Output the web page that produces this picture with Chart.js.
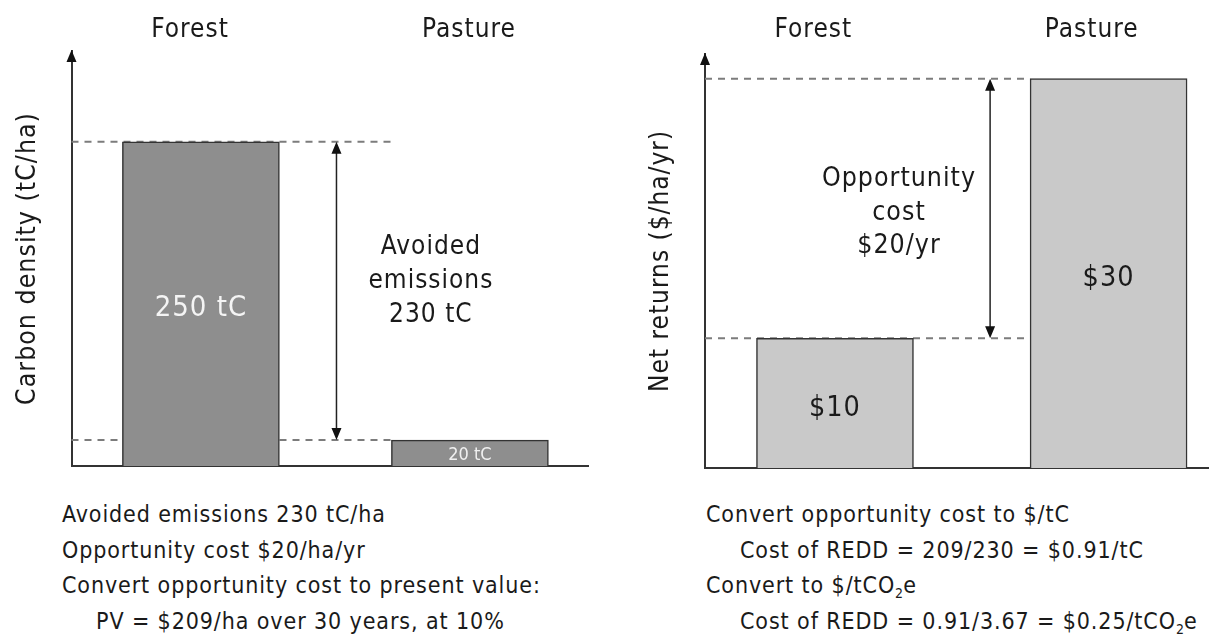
<!DOCTYPE html>
<html>
<head>
<meta charset="utf-8">
<script src="https://cdn.jsdelivr.net/npm/chart.js@4.4.1/dist/chart.umd.min.js"></script>
<style>
  body { margin: 0; width: 1209px; height: 637px; overflow: hidden; background: #fff; position: relative;
         font-family: "DejaVu Sans Condensed", "DejaVu Sans", sans-serif; color: #1a1a1a; }
  #carbon { position: absolute; left: 0; top: 0; }
  #returns { position: absolute; left: 600px; top: 0; }
  .notes { position: absolute; top: 497px; font-size: 23px; letter-spacing: 0.9px; line-height: 35.7px; white-space: nowrap; }
  .notes .ind { padding-left: 34px; }
  .notes sub { font-size: 14px; line-height: 0; vertical-align: -5px; letter-spacing: 0; }
</style>
</head>
<body>
<canvas id="carbon" width="600" height="480"></canvas>
<canvas id="returns" width="609" height="480"></canvas>

<div class="notes" style="left:62px">
  <div>Avoided emissions 230 tC/ha</div>
  <div>Opportunity cost $20/ha/yr</div>
  <div>Convert opportunity cost to present value:</div>
  <div class="ind">PV = $209/ha over 30 years, at 10%</div>
</div>
<div class="notes" style="left:706px">
  <div>Convert opportunity cost to $/tC</div>
  <div class="ind">Cost of REDD = 209/230 = $0.91/tC</div>
  <div>Convert to $/tCO<sub>2</sub>e</div>
  <div class="ind">Cost of REDD = 0.91/3.67 = $0.25/tCO<sub>2</sub>e</div>
</div>

<script>
const categories = ["Forest", "Pasture"];
const carbonDensity = [250, 20];
const netReturns = [10, 30];
const carbonLabels = ["250 tC", "20 tC"];
const returnLabels = ["$10", "$30"];
const avoidedText = ["Avoided", "emissions", "230 tC"];
const opportunityText = ["Opportunity", "cost", "$20/yr"];

const FONT = '"DejaVu Sans Condensed", "DejaVu Sans", sans-serif';
const INK = "#1a1a1a";

// dashed guides, axis arrow, gap arrow and text labels
const gapPlugin = {
  id: "gap",
  beforeDraw(chart) {
    chart.ctx.letterSpacing = "1px";
  },
  beforeDatasetsDraw(chart, args, opts) {
    const { ctx, chartArea, scales: { y } } = chart;
    const bars = chart.getDatasetMeta(0).data;
    const endX = bars[1].x - bars[1].width / 2;
    ctx.save();
    ctx.strokeStyle = "#7c7c7c";
    ctx.lineWidth = 2;
    ctx.setLineDash([7, 6]);
    chart.data.datasets[0].data.forEach(pt => {
      const py = y.getPixelForValue(pt.y);
      ctx.beginPath();
      ctx.moveTo(chartArea.left, py);
      ctx.lineTo(endX, py);
      ctx.stroke();
    });
    ctx.restore();
  },
  afterDatasetsDraw(chart, args, opts) {
    const { ctx, chartArea, scales: { x, y } } = chart;
    const values = chart.data.datasets[0].data.map(p => p.y);
    ctx.save();
    ctx.fillStyle = "#111";
    ctx.strokeStyle = "#222";

    // y axis arrow head
    const ax = chartArea.left;
    ctx.beginPath();
    ctx.moveTo(ax, chartArea.top - 1);
    ctx.lineTo(ax - 5, chartArea.top + 11);
    ctx.lineTo(ax + 5, chartArea.top + 11);
    ctx.closePath();
    ctx.fill();

    // double arrow between the two bar heights
    const gx = x.getPixelForValue(opts.arrowAt);
    const y1 = y.getPixelForValue(Math.max(...values));
    const y2 = y.getPixelForValue(Math.min(...values));
    ctx.lineWidth = 1.5;
    ctx.beginPath();
    ctx.moveTo(gx, y1 + 10);
    ctx.lineTo(gx, y2 - 10);
    ctx.stroke();
    ctx.beginPath();
    ctx.moveTo(gx, y1);
    ctx.lineTo(gx - 5, y1 + 12);
    ctx.lineTo(gx + 5, y1 + 12);
    ctx.closePath();
    ctx.moveTo(gx, y2);
    ctx.lineTo(gx - 5, y2 - 12);
    ctx.lineTo(gx + 5, y2 - 12);
    ctx.closePath();
    ctx.fill();

    // gap caption
    ctx.letterSpacing = "1px";
    ctx.textAlign = "center";
    ctx.textBaseline = "middle";
    ctx.fillStyle = INK;
    ctx.font = opts.textSize + "px " + FONT;
    const tx = x.getPixelForValue(opts.textAt);
    const ty = y.getPixelForValue(opts.textMid);
    opts.lines.forEach((line, i) => {
      ctx.fillText(line, tx, ty + (i - 1) * opts.lineStep);
    });

    // values inside the bars
    chart.getDatasetMeta(0).data.forEach((bar, i) => {
      const st = opts.barText[i];
      ctx.letterSpacing = st.spacing;
      ctx.font = st.size + "px " + FONT;
      ctx.fillStyle = st.color;
      ctx.fillText(opts.barLabels[i], bar.x, (bar.y + bar.base) / 2 + st.dy);
    });
    ctx.restore();
  }
};

function makeChart(id, cfg) {
  return new Chart(document.getElementById(id), {
    type: "bar",
    data: {
      datasets: [{
        data: cfg.values.map((v, i) => ({ x: i, y: v })),
        backgroundColor: cfg.fill,
        borderColor: "#333",
        borderWidth: 1.5,
        barThickness: 157,
      }],
    },
    options: {
      responsive: false,
      animation: false,
      layout: { padding: { left: 0, right: cfg.padRight, top: 0, bottom: 0 } },
      plugins: {
        legend: { display: false },
        tooltip: { enabled: false },
        gap: cfg.gap,
      },
      scales: {
        x: {
          type: "linear",
          position: "bottom",
          offset: false,
          min: cfg.xMin,
          max: cfg.xMax,
          grid: { display: false, drawTicks: false, offset: false },
          ticks: { display: false },
          border: { display: true, color: "#333", width: 2 },
          afterFit: s => { s.height = cfg.bottom; },
        },
        xTop: {
          axis: "x",
          type: "linear",
          position: "top",
          offset: false,
          min: cfg.labelMin,
          max: cfg.labelMax,
          grid: { display: false, drawTicks: false, offset: false },
          border: { display: false },
          afterBuildTicks: s => { s.ticks = categories.map((c, i) => ({ value: i })); },
          ticks: {
            autoSkip: false,
            maxRotation: 0,
            padding: cfg.labelPad,
            color: INK,
            font: { family: FONT, size: 26 },
            callback: v => categories[v],
          },
          afterFit: s => { s.height = cfg.top; },
        },
        y: {
          min: 0,
          max: cfg.yMax,
          grid: { display: false, drawTicks: false },
          ticks: { display: false },
          border: { display: true, color: "#333", width: 2 },
          title: {
            display: true,
            text: cfg.yTitle,
            color: INK,
            font: { family: FONT, size: cfg.yTitleSize },
            padding: { top: cfg.yTitlePad, bottom: 0 },
          },
          afterFit: s => { s.width = cfg.left; },
        },
      },
    },
    plugins: [gapPlugin],
  });
}

makeChart("carbon", {
  values: carbonDensity,
  fill: "#8e8e8e",
  padRight: 12,
  left: 71.5,
  top: 51,
  bottom: 14,
  yMax: 320,
  xMin: -0.481,
  xMax: 1.439,
  labelMin: -0.425,
  labelMax: 1.4265,
  labelPad: 5,
  yTitle: "Carbon density (tC/ha)",
  yTitleSize: 26.5,
  yTitlePad: 12,
  gap: {
    arrowAt: 0.504,
    textAt: 0.855,
    textMid: 142.6,
    lineStep: 34,
    textSize: 26,
    lines: avoidedText,
    barLabels: carbonLabels,
    barText: [
      { size: 29, color: "#f4f4f4", dy: 5, spacing: "1px" },
      { size: 18, color: "#f0f0f0", dy: 2, spacing: "0px" },
    ],
  },
});

makeChart("returns", {
  values: netReturns,
  fill: "#c9c9c9",
  padRight: 0,
  left: 105,
  top: 54,
  bottom: 12,
  yMax: 31.9,
  xMin: -0.475,
  xMax: 1.367,
  labelMin: -0.389,
  labelMax: 1.421,
  labelPad: 8,
  yTitle: "Net returns ($/ha/yr)",
  yTitleSize: 26,
  yTitlePad: 46,
  gap: {
    arrowAt: 0.567,
    textAt: 0.234,
    textMid: 19.65,
    lineStep: 33.5,
    textSize: 26.5,
    lines: opportunityText,
    barLabels: returnLabels,
    barText: [
      { size: 28.5, color: INK, dy: 5, spacing: "1px" },
      { size: 28.5, color: INK, dy: 5, spacing: "1px" },
    ],
  },
});
</script>
</body>
</html>
